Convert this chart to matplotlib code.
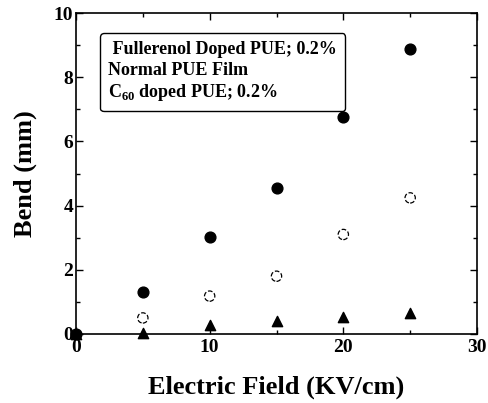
import matplotlib
matplotlib.use('Agg')
import matplotlib.pyplot as plt
from matplotlib.lines import Line2D
from matplotlib.ticker import MultipleLocator

plt.rcParams['font.family'] = ['Liberation Serif', 'DejaVu Serif']
plt.rcParams['font.weight'] = 'bold'
plt.rcParams['mathtext.fontset'] = 'custom'
plt.rcParams['mathtext.rm'] = 'Liberation Serif:bold'

# data
field = [0, 5, 10, 15, 20, 25]
fullerenol = [0.0, 1.31, 3.02, 4.55, 6.76, 8.88]
normal_x = [5, 10, 15, 20, 25]
normal = [0.5, 1.18, 1.8, 3.1, 4.24]
c60_x = [0, 5, 10, 15, 20, 25]
c60 = [0.0, 0.04, 0.28, 0.4, 0.53, 0.65]
labels = [' Fullerenol Doped PUE; 0.2%', 'Normal PUE Film',
          'C$_{60}$ doped PUE; 0.2%']

fig = plt.figure(figsize=(4.88, 4.03), dpi=100)
ax = fig.add_axes([76/488, 1-334/403, (477-76)/488, (334-13)/403])

ax.scatter(field, fullerenol, s=60, color='black', zorder=3, clip_on=False)
ax.scatter(normal_x, normal, s=55, facecolor='white', edgecolor='black',
           linewidths=0.9, linestyles='--', zorder=3)
ax.scatter(c60_x, c60, s=55, marker='^', color='black', zorder=3, clip_on=False)

ax.set_xlim(0, 30)
ax.set_ylim(0, 10)
ax.xaxis.set_major_locator(MultipleLocator(10))
ax.xaxis.set_minor_locator(MultipleLocator(5))
ax.yaxis.set_major_locator(MultipleLocator(2))
ax.yaxis.set_minor_locator(MultipleLocator(1))
ax.tick_params(which='both', direction='in', top=True, right=True,
               labelsize=14, width=1)
ax.tick_params(which='major', length=5)
ax.tick_params(which='minor', length=3)
ax.tick_params(axis='y', pad=2)
for lab in ax.get_xticklabels() + ax.get_yticklabels():
    lab.set_fontweight('bold')
for s in ax.spines.values():
    s.set_linewidth(1.2)

ax.set_xlabel('Electric Field (KV/cm)', fontsize=19, fontweight='bold', labelpad=14)
ax.set_ylabel('Bend (mm)', fontsize=19, fontweight='bold', labelpad=12)

handles = [Line2D([], [], linestyle='none') for _ in labels]
leg = ax.legend(handles, labels, loc='upper left', bbox_to_anchor=(0.06, 0.938),
                borderaxespad=0, handlelength=0, handletextpad=0, fancybox=True,
                framealpha=1, edgecolor='black',
                prop={'size': 13, 'weight': 'bold'},
                borderpad=0.45, labelspacing=0.2)
leg.get_frame().set_linewidth(1.0)

fig.savefig('out.png', dpi=100)
